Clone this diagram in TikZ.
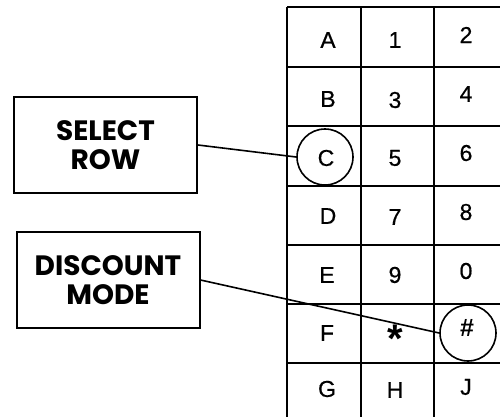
\documentclass[tikz,border=0pt]{standalone}
\usepackage{fontspec}
\setmainfont{Liberation Sans}
\newfontfamily\boxfont{Poppins}
\newfontfamily\cellfont[BoldFont=Liberation Sans,BoldFeatures={FakeBold=0.6}]{Liberation Sans}
\begin{document}
\begin{tikzpicture}[x=1pt,y=-1pt,
  gridline/.style={line width=2.2pt},
  labelbox/.style={draw,line width=2pt,minimum width=183pt,minimum height=96pt,inner sep=0pt,
     font=\boxfont\bfseries\fontsize{28}{29}\selectfont,align=center},
  celltext/.style={inner sep=0pt,font=\cellfont\bfseries\fontsize{23}{23}\selectfont},
  ring/.style={draw,circle,line width=1.6pt,minimum size=56pt,inner sep=0pt},
  conn/.style={line width=1.6pt}]
\useasboundingbox (0,0) rectangle (500,416);
\fill[white] (0,0) rectangle (500,416);
% grid
\foreach \yy in {7,67,126,186,245,304,363}
  \draw[gridline] (287,\yy) -- (520,\yy);
\foreach \xx in {287,361,434}
  \draw[gridline] (\xx,7) -- (\xx,430);
% column 1
\node[celltext] (cA) at (328,40) {A};
\node[celltext] (cB) at (328,99) {B};
\node[celltext] (cC) at (326,158) {C};
\node[celltext] (cD) at (328,216) {D};
\node[celltext] (cE) at (327,275) {E};
\node[celltext] (cF) at (327,333) {F};
\node[celltext] (cG) at (327,389) {G};
% column 2
\node[celltext] (c1) at (395,40) {1};
\node[celltext] (c3) at (395,100) {3};
\node[celltext] (c5) at (395,158) {5};
\node[celltext] (c7) at (395,217) {7};
\node[celltext] (c9) at (395,275) {9};
\node[celltext,font=\bfseries\fontsize{40}{40}\selectfont] (cstar) at (395,339) {*};
\node[celltext] (cH) at (395,390) {H};
% column 3
\node[celltext] (c2) at (466,35) {2};
\node[celltext] (c4) at (466,94) {4};
\node[celltext] (c6) at (466,153) {6};
\node[celltext] (c8) at (466,212) {8};
\node[celltext] (c0) at (466,271) {0};
\node[celltext,font=\bfseries\fontsize{25}{25}\selectfont] (chash) at (467,328) {\#};
\node[celltext] (cJ) at (466,387) {J};
% rings
\node[ring] (ringC) at (325,157) {};
\node[ring] (ringH) at (468,333) {};
% label boxes
\node[labelbox] (sel) at (105.5,145) {SELECT\\ROW};
\node[labelbox] (disc) at (108,280) {DISCOUNT\\MODE};
% connectors
\draw[conn] (sel.east) -- (ringC.west);
\draw[conn] (disc.east) -- (ringH.west);
\end{tikzpicture}
\end{document}
